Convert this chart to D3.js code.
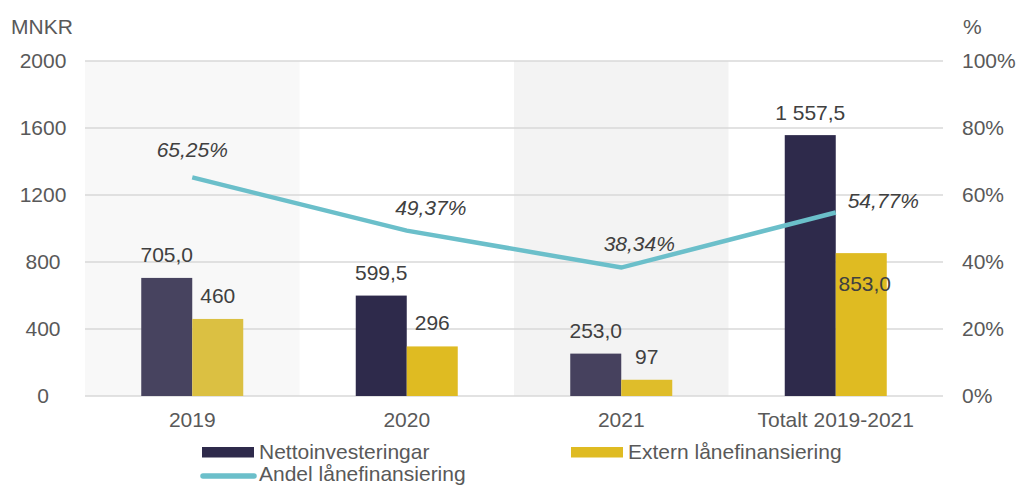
<!DOCTYPE html>
<html>
<head>
<meta charset="utf-8">
<script src="https://cdnjs.cloudflare.com/ajax/libs/d3/7.9.0/d3.min.js"></script>
<style>
  html, body { margin: 0; padding: 0; background: #fff; }
  svg { display: block; font-family: "Liberation Sans", Arial, sans-serif; }
</style>
</head>
<body>
<svg id="chart" width="1018" height="485"></svg>
<script>
const categories = ['2019', '2020', '2021', 'Totalt 2019-2021'];
const netto = [705.0, 599.5, 253.0, 1557.5];
const extern = [460, 296, 97, 853.0];
const andel = [65.25, 49.37, 38.34, 54.77];
const nettoLabels = ['705,0', '599,5', '253,0', '1 557,5'];
const externLabels = ['460', '296', '97', '853,0'];
const andelLabels = ['65,25%', '49,37%', '38,34%', '54,77%'];
const leftTicks = [0, 400, 800, 1200, 1600, 2000];
const rightTicks = [0, 20, 40, 60, 80, 100];

// färger per kategori (2019 och 2021 lite blekare i originalet)
const DARK = ['#47435f', '#2e2a4b', '#46415e', '#2e2a4b'];
const GOLD = ['#dbc042', '#dfbb22', '#dfbd2a', '#dfbb22'];
const BAND = ['#f8f8f8', null, '#f3f3f3', null];
const LINE = '#6bbfca';
const TXT = '#595959';
const FS = 21;

const svg = d3.select('#chart');
const M = { left: 85, right: 943, top: 61, bottom: 396 };

const x = d3.scaleBand().domain(categories).range([M.left, M.right]);
const yL = d3.scaleLinear().domain([0, 2000]).range([M.bottom, M.top]);
const yR = d3.scaleLinear().domain([0, 100]).range([M.bottom, M.top]);
const barW = 51;

// bakgrundsband
svg.append('g').selectAll('rect').data(categories.filter((c, i) => BAND[i])).join('rect')
  .attr('x', d => x(d)).attr('y', M.top)
  .attr('width', x.bandwidth()).attr('height', M.bottom - M.top)
  .attr('fill', d => BAND[categories.indexOf(d)]);

// rutnät
svg.append('g').selectAll('line').data(leftTicks).join('line')
  .attr('x1', M.left).attr('x2', M.right)
  .attr('y1', d => yL(d)).attr('y2', d => yL(d))
  .attr('stroke', '#d9d9d9').attr('stroke-width', 1.5);

// staplar
const cx = c => x(c) + x.bandwidth() / 2;
svg.append('g').selectAll('rect').data(categories).join('rect')
  .attr('x', d => cx(d) - barW).attr('y', (d, i) => yL(netto[i]))
  .attr('width', barW).attr('height', (d, i) => M.bottom - yL(netto[i]))
  .attr('fill', (d, i) => DARK[i]);
svg.append('g').selectAll('rect').data(categories).join('rect')
  .attr('x', d => cx(d)).attr('y', (d, i) => yL(extern[i]))
  .attr('width', barW).attr('height', (d, i) => M.bottom - yL(extern[i]))
  .attr('fill', (d, i) => GOLD[i]);

// stapeletiketter
svg.append('g').selectAll('text').data(categories).join('text')
  .attr('x', d => cx(d) - barW / 2).attr('y', (d, i) => yL(netto[i]) - 15.5)
  .attr('text-anchor', 'middle').attr('font-size', FS).attr('fill', '#404040')
  .text((d, i) => nettoLabels[i]);
svg.append('g').selectAll('text').data(categories).join('text')
  .attr('x', (d, i) => cx(d) + barW / 2 + (i === 3 ? 3.5 : 0))
  .attr('y', (d, i) => i === 3 ? yL(extern[i]) + 37.5 : yL(extern[i]) - 16)
  .attr('text-anchor', 'middle').attr('font-size', FS).attr('fill', '#404040')
  .text((d, i) => externLabels[i]);

// linje
const line = d3.line().x((d, i) => cx(categories[i])).y(d => yR(d));
svg.append('path').datum(andel).attr('d', line)
  .attr('fill', 'none').attr('stroke', LINE).attr('stroke-width', 4.5);

const lblDx = [0, 24, 18, 47.5];
const lblDy = [-20, -15.5, -17, -5];
svg.append('g').selectAll('text').data(andel).join('text')
  .attr('x', (d, i) => cx(categories[i]) + lblDx[i])
  .attr('y', (d, i) => yR(d) + lblDy[i])
  .attr('text-anchor', 'middle').attr('font-size', FS).attr('font-style', 'italic')
  .attr('fill', '#404040')
  .text((d, i) => andelLabels[i]);

// axlar
const axL = svg.append('g').attr('transform', `translate(${M.left - 20},0)`)
  .call(d3.axisLeft(yL).tickValues(leftTicks).tickSize(0).tickPadding(0).tickFormat(d3.format('d')));
const axR = svg.append('g').attr('transform', `translate(${M.right + 19},0)`)
  .call(d3.axisRight(yR).tickValues(rightTicks).tickSize(0).tickPadding(0).tickFormat(d => d + '%'));
const axX = svg.append('g').attr('transform', `translate(0,${M.bottom})`)
  .call(d3.axisBottom(x).tickSize(0).tickPadding(0));
[axL, axR, axX].forEach(a => {
  a.select('.domain').remove();
  a.selectAll('text').attr('font-size', FS).attr('fill', TXT)
    .attr('font-family', '"Liberation Sans", Arial, sans-serif');
});
axL.selectAll('text').attr('text-anchor', 'middle').attr('dx', -22);
axX.selectAll('text').attr('dy', 0).attr('y', 31);

svg.append('text').attr('x', 11).attr('y', 34).attr('font-size', FS).attr('fill', TXT).text('MNKR');
svg.append('text').attr('x', 963).attr('y', 34).attr('font-size', FS).attr('fill', TXT).text('%');

// förklaring
const leg = svg.append('g').attr('font-size', FS).attr('fill', TXT);
leg.append('rect').attr('x', 202).attr('y', 447).attr('width', 52).attr('height', 10.5).attr('fill', DARK[1]);
leg.append('text').attr('x', 259).attr('y', 459).text('Nettoinvesteringar');
leg.append('rect').attr('x', 571).attr('y', 447).attr('width', 52).attr('height', 10.5).attr('fill', GOLD[1]);
leg.append('text').attr('x', 628).attr('y', 459).text('Extern lånefinansiering');
leg.append('line').attr('x1', 203).attr('x2', 254).attr('y1', 476).attr('y2', 476)
  .attr('stroke', LINE).attr('stroke-width', 5.5).attr('stroke-linecap', 'round');
leg.append('text').attr('x', 259).attr('y', 481).text('Andel lånefinansiering');
</script>
</body>
</html>
